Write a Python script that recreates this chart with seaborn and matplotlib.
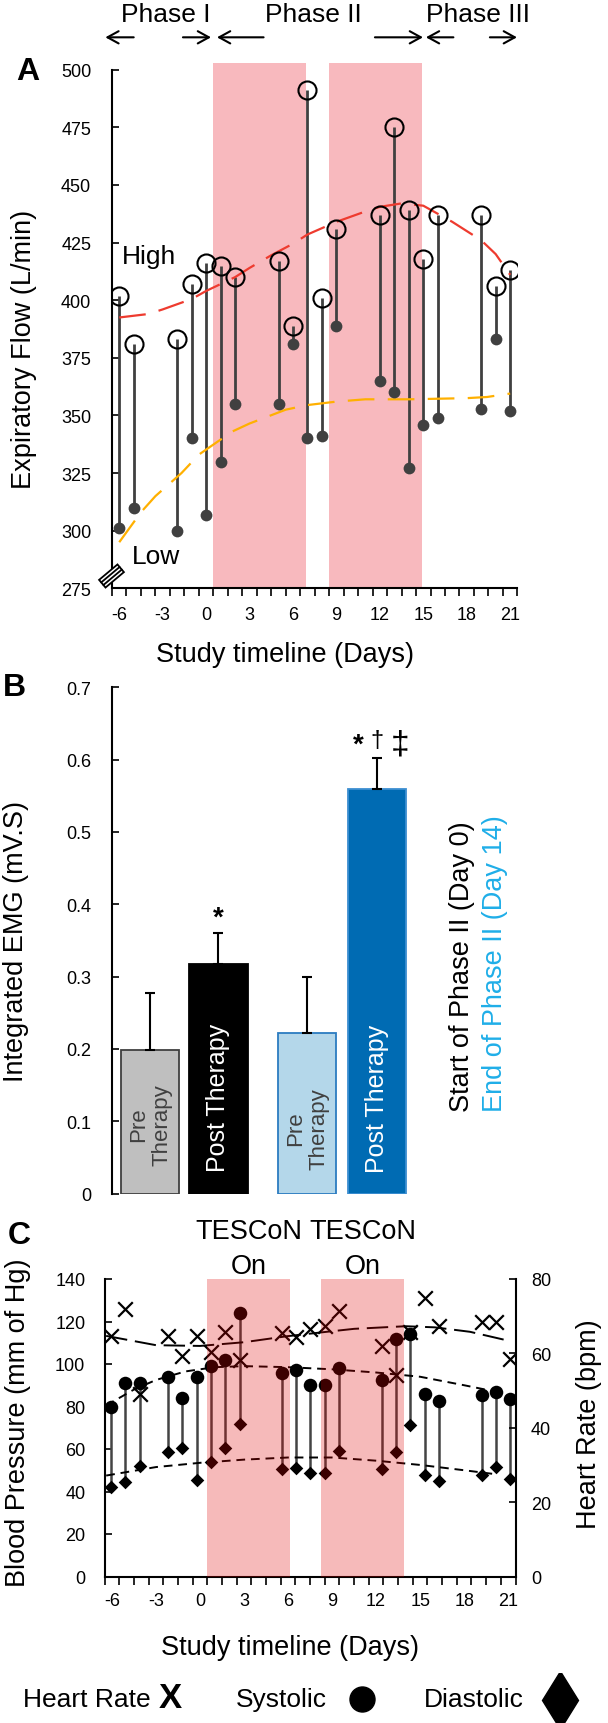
import numpy as np
import seaborn as sns
import matplotlib.pyplot as plt
from matplotlib.patches import Polygon
from matplotlib.lines import Line2D

sns.set_theme(style="white")
plt.rcParams['font.family'] = ['Liberation Sans', 'DejaVu Sans']
plt.rcParams['axes.unicode_minus'] = False
plt.rcParams['axes.edgecolor'] = 'black'
plt.rcParams['axes.linewidth'] = 1.5
plt.rcParams['text.color'] = 'black'
plt.rcParams['xtick.color'] = 'black'
plt.rcParams['ytick.color'] = 'black'

# Panel A - expiratory flow
flow_days = [-6, -5, -2, -1, 0, 1, 2, 5, 6, 7, 8, 9, 12, 13, 14, 15, 16, 19, 20, 21]
flow_high = [402, 381, 383, 407, 416, 415, 410, 417, 389, 491, 401, 431, 437, 475, 439, 418, 437, 437, 406, 413]
flow_low = [301, 310, 300, 340, 307, 330, 355, 355, 381, 340, 341, 389, 365, 360, 327, 346, 349, 353, 383, 352]
high_trend_days = [-6, -4, -3, -1, 0, 2, 3, 4.5, 6, 7, 9, 11, 12, 13.5, 15, 16, 17, 19, 20, 21]
high_trend = [392.5, 394, 396, 400.5, 404, 410, 414, 419.5, 424.5, 428.5, 434, 438.5, 440.5, 442, 441, 437.5, 434, 426, 420, 411]
low_trend_days = [-6, -4.5, -3.5, -1.7, -0.5, 1.8, 3, 5.5, 7, 9, 11, 14, 18, 19.4, 21]
low_trend = [295, 308, 315, 325, 333, 343, 346.5, 352.5, 354.5, 356, 357, 357, 357.5, 358, 359.5]
stim_a = [(0.5, 6.9), (8.5, 14.9)]
phase_names = ['Phase I', 'Phase II', 'Phase III']
phase_centers = [-2.8, 7.4, 18.8]
phase_arrows = [(-5.0, -6.96), (-1.6, 0.34), (3.97, 0.75), (11.66, 14.98), (17.08, 15.18), (19.6, 21.47)]

# Panel B - integrated EMG
emg_labels = ['Pre\nTherapy', 'Post Therapy', 'Pre\nTherapy', 'Post Therapy']
emg_mean = [0.198, 0.317, 0.222, 0.559]
emg_err = [0.080, 0.043, 0.078, 0.043]
bar_pos = [0, 1, 2.3, 3.33]

# Panel C - blood pressure and heart rate
bp_days = [-6.1, -5.1, -4.1, -2.2, -1.2, -0.2, 0.75, 1.7, 2.7, 5.6, 6.55, 7.5, 8.5, 9.5,
           12.4, 13.35, 14.3, 15.3, 16.3, 19.2, 20.15, 21.1]
systolic = [80, 91, 91, 94, 84, 94, 99, 102, 124, 96, 97, 90, 90, 98, 92.5, 112, 114, 86, 82.5, 85.5, 87, 83.5]
diastolic = [42, 44.5, 52, 58.5, 60.5, 45.5, 54, 60.5, 72, 50.5, 51, 48.5, 48.5, 59, 50.5, 58.5, 71.5, 48, 45, 48, 51.5, 46]
heart_rate = [64.8, 71.8, 49.1, 64.8, 59.2, 64.8, 60.3, 65.8, 58.3, 65.4, 64.5, 66.6, 67.4, 71.5,
              62.1, 54.2, 65.7, 74.8, 67.4, 68.4, 68.4, 58.5]
sys_trend_days = [-6.4, -4.5, -3, -1, 1, 3, 6, 9, 12, 15, 18, 20.5]
sys_trend = [80.5, 88, 92.5, 96.5, 98.5, 99, 98.5, 97.5, 96, 94, 90, 86.5]
dia_trend_days = [-6.4, -3, 0, 3, 6, 9, 12, 15, 18, 20.3]
dia_trend = [47.5, 51.5, 53.5, 55, 56, 56, 54.5, 52.5, 50, 48]
hr_trend_days = [-6.4, -3, 0, 3, 5.9, 8.4, 10.5, 14, 16, 18.4, 20.7]
hr_trend = [64.7, 62.2, 62.0, 63.0, 64.6, 65.7, 66.6, 67.3, 67.0, 65.8, 63.7]
stim_c = [(0.47, 6.14), (8.25, 13.91)]

W, H = 608, 1724
fig = plt.figure(figsize=(W / 100, H / 100), dpi=100)


def box(l, t, r, b):
    return [l / W, 1 - b / H, (r - l) / W, (b - t) / H]


def ftext(x, y, s, **kw):
    fig.text(x / W, 1 - y / H, s, **kw)


def day_axis(ax, pad):
    ax.set_xlim(-6.5, 21.5)
    ax.set_xticks(range(-6, 22, 3))
    ax.set_xticks(np.arange(-6.5, 22, 1), minor=True)
    ax.tick_params(axis='x', which='major', length=0, pad=pad, labelsize=13)
    ax.tick_params(axis='x', which='minor', length=6, width=1.2, direction='out', bottom=True)


# ---------------- A ----------------
ax_a = fig.add_axes(box(112, 63.8, 517.4, 589.3))
for x0, x1 in stim_a:
    ax_a.axvspan(x0, x1, color='#F8B9BE', lw=0, zorder=0)
ax_a.vlines(flow_days, flow_low, flow_high, color='#404040', lw=2, zorder=2)
sns.lineplot(x=high_trend_days, y=high_trend, ax=ax_a, color='#EE3B2F', lw=1.6, zorder=3)
ax_a.lines[-1].set_dashes((12, 6))
sns.lineplot(x=low_trend_days, y=low_trend, ax=ax_a, color='#FFB000', lw=1.6, zorder=3)
ax_a.lines[-1].set_dashes((12, 6))
sns.scatterplot(x=flow_days, y=flow_low, ax=ax_a, color='#404040', s=72, linewidth=0, zorder=4)
ax_a.plot(flow_days, flow_high, 'o', ms=13, mfc='none', mec='black', mew=1.5, zorder=5)
ax_a.text(-5.83, 419, 'High', fontsize=19, ha='left', va='center')
ax_a.text(-5.13, 289, 'Low', fontsize=19, ha='left', va='center')

ax_a.set_ylim(275, 503)
ax_a.set_yticks(range(275, 501, 25))
day_axis(ax_a, 12.5)
ax_a.tick_params(axis='y', direction='in', length=5, width=1.2, pad=15, labelsize=13, left=True)
for s in ['top', 'right']:
    ax_a.spines[s].set_visible(False)
ax_a.spines['left'].set_bounds(275, 500)

xt = ax_a.get_xaxis_transform()
for name, c in zip(phase_names, phase_centers):
    ax_a.text(c, 1.093, name, transform=xt, fontsize=19, ha='center', va='center', clip_on=False)
for tail, head in phase_arrows:
    ax_a.annotate('', xy=(head, 1.0485), xytext=(tail, 1.0485), xycoords=xt, textcoords=xt,
                  arrowprops=dict(arrowstyle='->,head_length=0.4,head_width=0.22', lw=1.5,
                                  color='black', mutation_scale=20, shrinkA=0, shrinkB=0),
                  annotation_clip=False)

# axis break mark
cx, cy = 111.5, 577
ang = np.deg2rad(40)
u = np.array([np.cos(ang), -np.sin(ang)])
v = np.array([np.sin(ang), np.cos(ang)])
corners = [np.array([cx, cy]) + a * 12 * u + b * 5 * v for a, b in [(-1, -1), (1, -1), (1, 1), (-1, 1)]]
fig.add_artist(Polygon([(p[0] / W, 1 - p[1] / H) for p in corners], closed=True, facecolor='white',
                       edgecolor='black', lw=1.3, transform=fig.transFigure, zorder=10))
for b in [-1.7, 1.7]:
    p0 = np.array([cx, cy]) - 12 * u + b * v
    p1 = np.array([cx, cy]) + 12 * u + b * v
    fig.add_artist(Line2D([p0[0] / W, p1[0] / W], [1 - p0[1] / H, 1 - p1[1] / H], color='black',
                          lw=1.3, transform=fig.transFigure, zorder=11))

ftext(24, 349, 'Expiratory Flow (L/min)', fontsize=19.5, rotation=90, ha='center', va='center')
ftext(285, 655, 'Study timeline (Days)', fontsize=19.5, ha='center', va='center')

# ---------------- B ----------------
ax_b = fig.add_axes(box(112.4, 688.3, 511.5, 1194.6))
bar_colors = ['#BFBFBF', '#000000', '#B4D7EA', '#006BB3']
bar_edges = ['#404040', '#000000', '#2B7CC0', '#3D8FD1']
ax_b.bar(bar_pos, emg_mean, width=0.86, color=bar_colors, edgecolor=bar_edges, linewidth=1.3, zorder=2)
ax_b.errorbar(bar_pos, emg_mean, yerr=[[0] * 4, emg_err], fmt='none', ecolor='black',
              elinewidth=1.5, capsize=3.5, capthick=1.5, zorder=3)
txt_col = ['#404040', 'white', '#404040', 'white']
txt_size = [16, 18, 16, 18]
txt_y = [0.04, 0.031, 0.034, 0.03]
for x, lab, c, fs, y in zip(bar_pos, emg_labels, txt_col, txt_size, txt_y):
    ax_b.text(x, y, lab, rotation=90, ha='center', va='bottom', color=c, fontsize=fs,
              multialignment='center', linespacing=1.15, zorder=4)
ax_b.text(bar_pos[1], 0.372, '*', ha='center', va='baseline', fontsize=20, fontweight='bold')
ax_b.text(3.057, 0.611, '*', ha='center', va='baseline', fontsize=20, fontweight='bold')
ax_b.text(3.33, 0.627, '\u2020', ha='center', va='center', fontsize=17)
ax_b.text(3.666, 0.622, '\u2021', ha='center', va='center', fontsize=24)
ax_b.text(4.575, 0.114, 'Start of Phase II (Day 0)', rotation=90, ha='center', va='bottom', fontsize=19.5)
ax_b.text(5.06, 0.114, 'End of Phase II (Day 14)', rotation=90, ha='center', va='bottom', fontsize=19.5,
          color='#1FAEE8')
ax_b.set_xlim(-0.551, 5.3)
ax_b.set_ylim(0, 0.7)
yt = [0, 0.1, 0.2, 0.3, 0.4, 0.5, 0.6, 0.7]
ax_b.set_yticks(yt, ['0', '0.1', '0.2', '0.3', '0.4', '0.5', '0.6', '0.7'])
ax_b.set_xticks([])
ax_b.tick_params(axis='y', direction='in', length=5, width=1.2, pad=15, labelsize=13, left=True)
for s in ['top', 'right', 'bottom']:
    ax_b.spines[s].set_visible(False)
ftext(16, 941.5, 'Integrated EMG (mV.S)', fontsize=19.5, rotation=90, ha='center', va='center')

# ---------------- C ----------------
ax_c = fig.add_axes(box(104.7, 1280, 515.5, 1577.5))
ax_c.set_ylim(0, 140)
ax_r = ax_c.twinx()
ax_r.set_ylim(0, 80)
ax_c.vlines(bp_days, diastolic, systolic, color='#444444', lw=1.8, zorder=2)
sns.lineplot(x=sys_trend_days, y=sys_trend, ax=ax_c, color='black', lw=1.4, zorder=3)
ax_c.lines[-1].set_dashes((4.5, 3))
sns.lineplot(x=dia_trend_days, y=dia_trend, ax=ax_c, color='black', lw=1.4, zorder=3)
ax_c.lines[-1].set_dashes((4.5, 3))
sns.scatterplot(x=bp_days, y=systolic, ax=ax_c, color='black', s=95, linewidth=0, zorder=4)
sns.scatterplot(x=bp_days, y=diastolic, ax=ax_c, marker='D', color='black', s=48, linewidth=0, zorder=4)
sns.lineplot(x=hr_trend_days, y=hr_trend, ax=ax_r, color='black', lw=1.4, zorder=3)
ax_r.lines[-1].set_dashes((11, 4))
sns.scatterplot(x=bp_days, y=heart_rate, ax=ax_r, marker='x', color='black', s=110, linewidth=1.6, zorder=4)
for x0, x1 in stim_c:
    ax_r.axvspan(x0, x1, color='#E00000', alpha=0.27, lw=0, zorder=10)

day_axis(ax_c, 11.5)
ax_r.set_xlim(-6.5, 21.5)
ax_c.set_yticks(range(0, 141, 20))
ax_r.set_yticks(range(0, 81, 20))
ax_c.tick_params(axis='y', direction='in', length=5, width=1.2, pad=14, labelsize=13, left=True)
ax_r.tick_params(axis='y', direction='in', length=5, width=1.2, pad=11, labelsize=13, right=True)
ax_c.spines['top'].set_visible(False)
ax_c.spines['right'].set_visible(False)
for s in ['top', 'left', 'bottom']:
    ax_r.spines[s].set_visible(False)
ax_c.set_ylabel('')
ax_r.set_ylabel('')

xt_c = ax_c.get_xaxis_transform()
for x0, x1 in stim_c:
    mid = (x0 + x1) / 2
    ax_c.text(mid, 1.16, 'TESCoN', transform=xt_c, fontsize=19.5, ha='center', va='center')
    ax_c.text(mid, 1.045, 'On', transform=xt_c, fontsize=19.5, ha='center', va='center')

ftext(18.5, 1423, 'Blood Pressure (mm of Hg)', fontsize=19.5, rotation=90, ha='center', va='center')
ftext(589, 1424, 'Heart Rate (bpm)', fontsize=19.5, rotation=90, ha='center', va='center')
ftext(290, 1648, 'Study timeline (Days)', fontsize=19.5, ha='center', va='center')

# legend row
ax_l = fig.add_axes([0, 0, 1, 50 / H])
ax_l.set_xlim(0, W)
ax_l.set_ylim(H, H - 50)
ax_l.axis('off')
ax_l.text(23, 1700, 'Heart Rate', fontsize=19, ha='left', va='center')
ax_l.text(170.5, 1699, 'X', fontsize=25, fontweight='bold', ha='center', va='center')
ax_l.text(236, 1700, 'Systolic', fontsize=19, ha='left', va='center')
ax_l.plot([361.5], [1700], 'o', color='black', ms=18)
ax_l.text(424, 1700, 'Diastolic', fontsize=19, ha='left', va='center')
ax_l.plot([560], [1701], 'd', color='black', ms=30)

# panel letters
ftext(27.5, 72, 'A', fontsize=23, fontweight='bold', ha='center', va='center')
ftext(14.5, 688, 'B', fontsize=23, fontweight='bold', ha='center', va='center')
ftext(19.5, 1236, 'C', fontsize=23, fontweight='bold', ha='center', va='center')

fig.savefig('out.png', dpi=100)
